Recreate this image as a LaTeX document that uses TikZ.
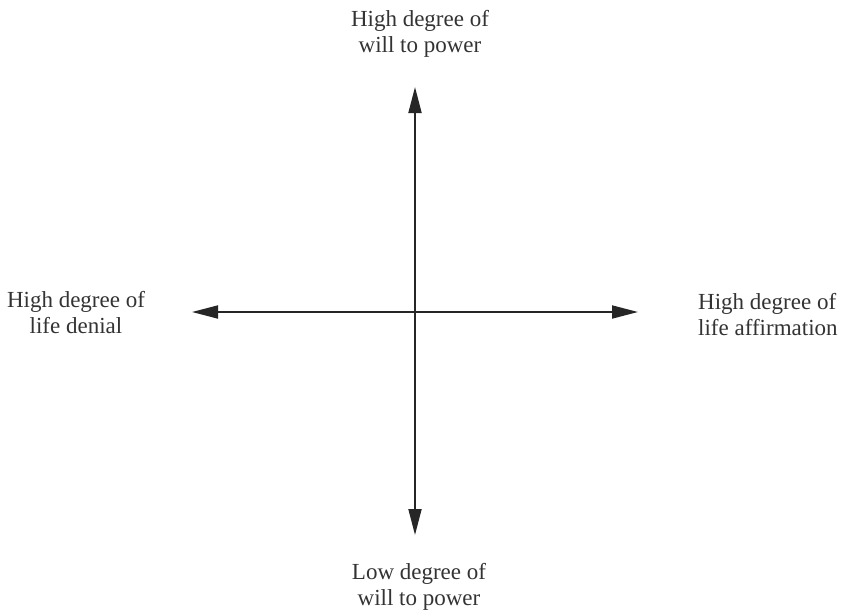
\documentclass[tikz,border=0pt]{standalone}
\usepackage{fontspec}
\setmainfont{Liberation Serif}
\usetikzlibrary{arrows.meta}
\begin{document}
\begin{tikzpicture}[x=1pt,y=-1pt,
  axis/.style={line width=1.8pt, draw=black!85, {Triangle[length=26pt,width=13pt]}-{Triangle[length=26pt,width=13pt]}},
  lbl/.style={align=center, inner sep=0pt, font=\fontsize{23}{26}\selectfont, text=black!80}]
\useasboundingbox (0,0) rectangle (841,611);
\coordinate (top) at (415,87);
\coordinate (bot) at (415,535);
\coordinate (lft) at (192,312);
\coordinate (rgt) at (638,312);
\draw[axis] (bot) -- (top);
\draw[axis] (lft) -- (rgt);
\node[lbl] (ntop) at (420,33.5) {High degree of\\will to power};
\node[lbl] (nbot) at (419,586.7) {Low degree of\\will to power};
\node[lbl] (nlft) at (76,312.7) {High degree of\\life denial};
\node[lbl, align=left, anchor=west] (nrgt) at (698,314.5) {High degree of\\life af{}f{}irmation};
\end{tikzpicture}
\end{document}
